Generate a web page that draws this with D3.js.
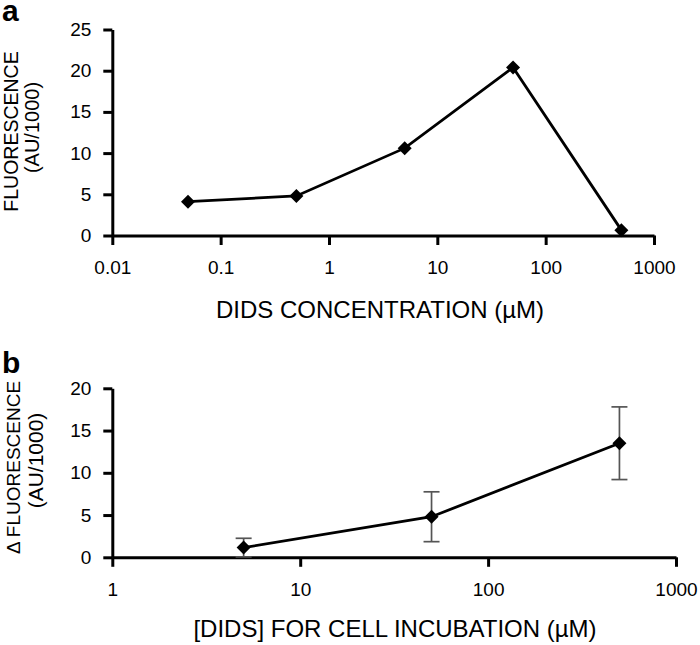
<!DOCTYPE html>
<html>
<head>
<meta charset="utf-8">
<script src="https://cdn.jsdelivr.net/npm/d3@7"></script>
<style>
  html, body { margin: 0; padding: 0; background: #fff; }
  svg { display: block; }
  text { font-family: "Liberation Sans", Arial, sans-serif; fill: #000; }
</style>
</head>
<body>
<svg id="chart" width="700" height="645"></svg>
<script>
// ---- Panel a data ----
const concA = [0.05, 0.5, 5, 50, 500];
const fluorA = [4.1, 4.8, 10.6, 20.4, 0.65];
const xTicksA = [0.01, 0.1, 1, 10, 100, 1000];
const xTickLabelsA = ["0.01", "0.1", "1", "10", "100", "1000"];
const yTicksA = [0, 5, 10, 15, 20, 25];

// ---- Panel b data ----
const concB = [5, 50, 500];
const deltaB = [1.15, 4.8, 13.5];
const errB = [1.1, 2.95, 4.3];
const xTicksB = [1, 10, 100, 1000];
const xTickLabelsB = ["1", "10", "100", "1000"];
const yTicksB = [0, 5, 10, 15, 20];

const svg = d3.select("#chart");

function panel(cfg) {
  const x = d3.scaleLog().domain(cfg.xDomain).range(cfg.xRange);
  const y = d3.scaleLinear().domain(cfg.yDomain).range(cfg.yRange);
  const g = svg.append("g");

  const xAxis = d3.axisBottom(x).tickValues(cfg.xTicks)
    .tickFormat((d, i) => cfg.xLabels[i]).tickSize(9.5).tickSizeOuter(0).tickPadding(16);
  const gx = g.append("g").attr("transform", `translate(0,${cfg.yRange[0]})`).call(xAxis);
  const yAxis = d3.axisLeft(y).tickValues(cfg.yTicks)
    .tickFormat(d3.format("d")).tickSize(9).tickSizeOuter(0).tickPadding(12);
  const gy = g.append("g").attr("transform", `translate(${cfg.xRange[0]},0)`).call(yAxis);

  [gx, gy].forEach(a => {
    a.attr("font-size", null).attr("font-family", null);
    a.selectAll("path.domain").attr("stroke", "#000").attr("stroke-width", 3);
    a.selectAll(".tick line").attr("stroke", "#000").attr("stroke-width", 3);
    a.selectAll(".tick text").attr("fill", "#000").style("font-size", "19px");
  });

  // error bars
  if (cfg.err) {
    const eb = g.append("g").attr("stroke", "#555").attr("stroke-width", 1.7);
    cfg.xs.forEach((xv, i) => {
      const cx = x(xv), yt = y(cfg.ys[i] + cfg.err[i]), yb = y(cfg.ys[i] - cfg.err[i]);
      eb.append("line").attr("x1", cx).attr("x2", cx).attr("y1", yt).attr("y2", yb);
      eb.append("line").attr("x1", cx - 8).attr("x2", cx + 8).attr("y1", yt).attr("y2", yt);
      eb.append("line").attr("x1", cx - 8).attr("x2", cx + 8).attr("y1", yb).attr("y2", yb);
    });
  }

  const pts = cfg.xs.map((d, i) => [d, cfg.ys[i]]);
  g.append("path").datum(pts)
    .attr("fill", "none").attr("stroke", "#000").attr("stroke-width", 2.8)
    .attr("stroke-linejoin", "miter")
    .attr("d", d3.line().x(d => x(d[0])).y(d => y(d[1])));

  g.selectAll("path.mark").data(pts).enter().append("path")
    .attr("class", "mark")
    .attr("d", d3.symbol(d3.symbolSquare, 98))
    .attr("fill", "#000")
    .attr("transform", d => `translate(${x(d[0])},${y(d[1])}) rotate(45)`);

  // panel letter
  svg.append("text").attr("x", 2).attr("y", cfg.letterY)
    .attr("font-size", 30).attr("font-weight", "bold").text(cfg.letter);

  // x title
  svg.append("text").attr("x", cfg.xTitlePos[0]).attr("y", cfg.xTitlePos[1])
    .attr("text-anchor", "middle").attr("font-size", 24).text(cfg.xTitle);

  // y titles
  cfg.yTitles.forEach(t => {
    svg.append("text")
      .attr("transform", `translate(${t.x},${t.y}) rotate(-90)`)
      .attr("text-anchor", "middle").attr("font-size", t.size).text(t.text);
  });
}

panel({
  xDomain: [0.01, 1000], xRange: [112.3, 654],
  yDomain: [0, 25], yRange: [235.5, 29.5],
  xTicks: xTicksA, xLabels: xTickLabelsA, yTicks: yTicksA,
  xs: concA, ys: fluorA,
  letter: "a", letterY: 21,
  xTitle: "DIDS CONCENTRATION (\u00B5M)", xTitlePos: [380, 318],
  yTitles: [
    { text: "FLUORESCENCE", x: 18, y: 131.5, size: 19.5 },
    { text: "(AU/1000)", x: 39, y: 127.5, size: 20 }
  ]
});

panel({
  xDomain: [1, 1000], xRange: [112.3, 676],
  yDomain: [0, 20], yRange: [557.3, 388.3],
  xTicks: xTicksB, xLabels: xTickLabelsB, yTicks: yTicksB,
  xs: concB, ys: deltaB, err: errB,
  letter: "b", letterY: 373,
  xTitle: "[DIDS] FOR CELL INCUBATION (\u00B5M)", xTitlePos: [395, 637],
  yTitles: [
    { text: "\u0394 FLUORESCENCE", x: 20, y: 467.5, size: 19 },
    { text: "(AU/1000)", x: 43, y: 460.5, size: 21 }
  ]
});
</script>
</body>
</html>
